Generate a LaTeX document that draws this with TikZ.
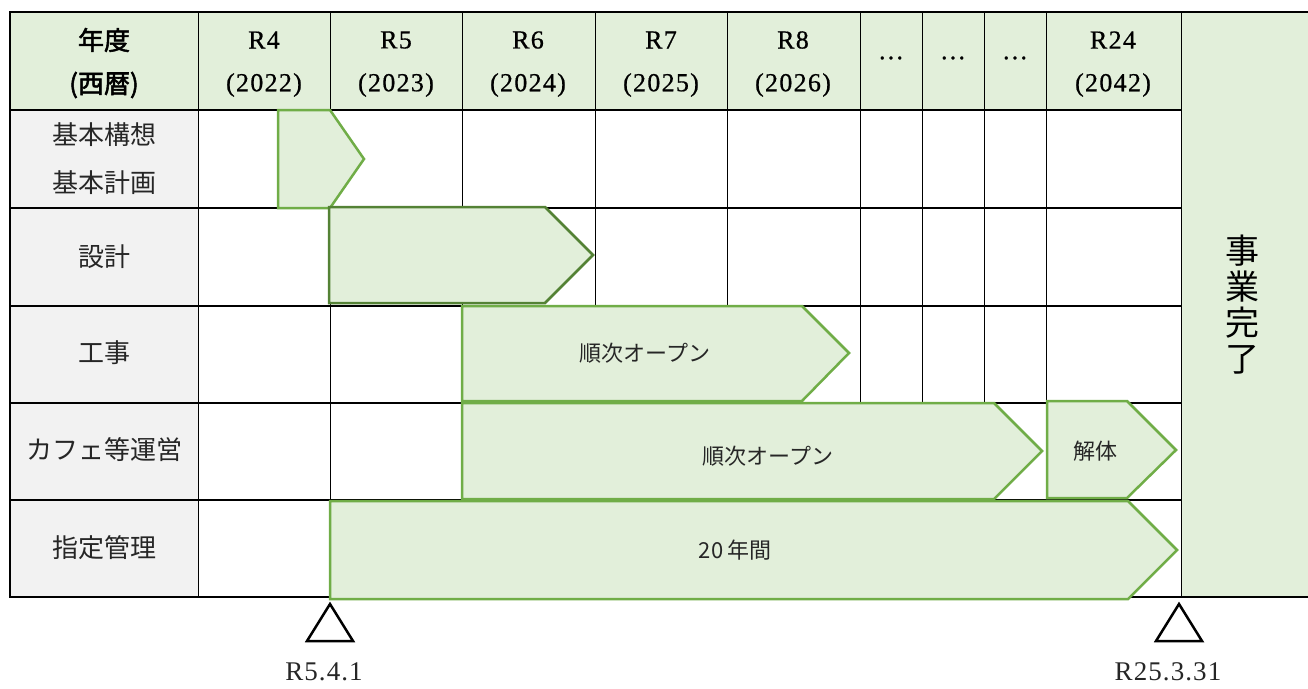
\documentclass[tikz,border=0pt]{standalone}
\usepackage{fontspec}
\setmainfont{Liberation Serif}
\newfontfamily\jp{Noto Sans CJK JP}
\newfontfamily\jpb{Noto Sans CJK JP}[FakeBold=2]
\newfontfamily\hdrserif{Liberation Serif}[FakeBold=0.6, LetterSpace=5]
\newfontfamily\dateserif{Liberation Serif}[LetterSpace=4]
\definecolor{hdrfill}{HTML}{E2EFDA}
\definecolor{lblfill}{HTML}{F2F2F2}
\definecolor{bargreen}{HTML}{70AD47}
\definecolor{bardark}{HTML}{548235}
\definecolor{txt}{HTML}{262626}
\begin{document}
\begin{tikzpicture}[x=1pt,y=-1pt,
  hline/.style={line width=1.8pt, black},
  vline/.style={line width=1pt, black},
  bar/.style={fill=hdrfill, draw=bargreen, line width=2.5pt, line join=miter},
  bardk/.style={bar, draw=bardark},
  lbl/.style={font=\jp\fontsize{26}{30}\selectfont, text=txt, inner sep=0pt},
  hdrj/.style={font=\jpb\fontsize{26}{30}\selectfont, text=black, inner sep=0pt},
  hdrl/.style={font=\hdrserif\fontsize{26}{30}\selectfont, text=black, inner sep=0pt},
  bartxt/.style={font=\jp\fontsize{22}{26}\selectfont, text=txt, inner sep=0pt},
  datetxt/.style={font=\dateserif\fontsize{27}{31}\selectfont, text=txt, inner sep=0pt, text depth=0pt, anchor=base},
  tri/.style={draw=black, line width=2.5pt, fill=white, line join=miter}]
\useasboundingbox (0,0) rectangle (1308,688);
% backgrounds
\fill[hdrfill] (10,12) rectangle (1181,110);
\fill[hdrfill] (1181,12) rectangle (1308,597);
\fill[lblfill] (10,110) rectangle (198,597);
% vertical lines
\foreach \x in {198,330,462,595,727,860,922,984,1046} \draw[vline] (\x,12) -- (\x,403);
\foreach \x in {198,330,462,1046} \draw[vline] (\x,403) -- (\x,500);
\foreach \x in {198,330} \draw[vline] (\x,500) -- (\x,597);
\draw[vline] (1181,12) -- (1181,597);
\draw[hline] (10,12) -- (10,597);
% horizontal lines
\draw[hline] (9.1,12) -- (1308,12);
\foreach \y in {110,208,306,403,500} \draw[hline] (10,\y) -- (1181,\y);
\draw[hline] (9.1,597) -- (1308,597);
% bars
\draw[bar] (278,110) -- (330,110) -- (364,159) -- (330,208) -- (278,208) -- cycle;
\draw[bardk] (329,207) -- (545,207) -- (593,255) -- (545,303) -- (329,303) -- cycle;
\draw[bar] (462,306) -- (802,306) -- (849,353) -- (802,401) -- (462,401) -- cycle;
\draw[bar] (462,403) -- (994,403) -- (1042,451) -- (994,499) -- (462,499) -- cycle;
\draw[bar] (1047,401) -- (1127,401) -- (1176,450) -- (1127,498) -- (1047,498) -- cycle;
\draw[bar] (330,501) -- (1128,501) -- (1177,550) -- (1128,599) -- (330,599) -- cycle;
% header texts
\node[hdrj] (h0a) at (104,40) {年度};
\node[hdrj] (h0b) at (104,85) {(西暦)};
\node[hdrl] (h1a) at (264,40) {R4};
\node[hdrl] (h1b) at (264,85) {(2022)};
\node[hdrl] (h2a) at (396,40) {R5};
\node[hdrl] (h2b) at (396,85) {(2023)};
\node[hdrl] (h3a) at (528,40) {R6};
\node[hdrl] (h3b) at (528,85) {(2024)};
\node[hdrl] (h4a) at (661,40) {R7};
\node[hdrl] (h4b) at (661,85) {(2025)};
\node[hdrl] (h5a) at (793,40) {R8};
\node[hdrl] (h5b) at (793,85) {(2026)};
\node[hdrl] (h6) at (891,58) {…};
\node[hdrl] (h7) at (953,58) {…};
\node[hdrl] (h8) at (1015,58) {…};
\node[hdrl] (h9a) at (1113,40) {R24};
\node[hdrl] (h9b) at (1113,85) {(2042)};
% row labels
\node[lbl] (r1a) at (104,135) {基本構想};
\node[lbl] (r1b) at (104,183) {基本計画};
\node[lbl] (r2) at (104,257) {設計};
\node[lbl] (r3) at (104,353) {工事};
\node[lbl] (r4) at (104,450) {カフェ等運営};
\node[lbl] (r5) at (104,548) {指定管理};
% bar texts
\node[bartxt] (b3) at (645,353) {順次オープン};
\node[bartxt] (b4) at (768,456) {順次オープン};
\node[bartxt] (b5) at (1095,451) {解体};
\node[bartxt] (b6) at (735,550) {20\,年間};
% end column
\node[font=\jp\fontsize{34}{38}\selectfont, text=black, inner sep=0pt, align=center] (end) at (1242,305) {事\\[-2pt]業\\[-2pt]完\\[-2pt]了};
% milestones
\draw[tri] (330,604) -- (353,641) -- (307,641) -- cycle;
\draw[tri] (1179,604) -- (1202,641) -- (1156,641) -- cycle;
\node[datetxt] (d1) at (324,680) {R5.4.1};
\node[datetxt] (d2) at (1168,680) {R25.3.31};
\end{tikzpicture}
\end{document}
